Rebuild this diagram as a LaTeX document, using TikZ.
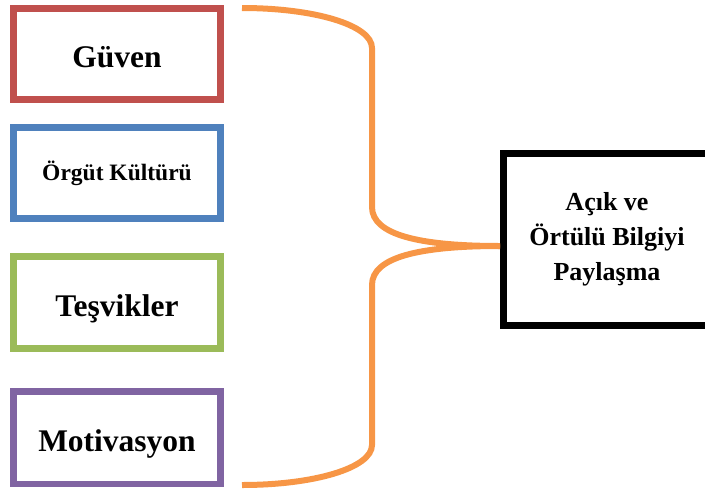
\documentclass[tikz,border=0pt]{standalone}
\usepackage{fontspec}
\setmainfont{Liberation Serif}
\definecolor{boxred}{HTML}{C0504D}
\definecolor{boxblue}{HTML}{4F81BD}
\definecolor{boxgreen}{HTML}{9BBB59}
\definecolor{boxpurple}{HTML}{8064A2}
\definecolor{braceorange}{HTML}{F79646}
\begin{document}
\begin{tikzpicture}[x=1pt,y=-1pt,
  factor/.style={draw, line width=6.5pt, fill=white, inner sep=0pt,
    minimum width=207pt, minimum height=91pt, font=\bfseries},
  biglabel/.style={font=\fontsize{31.5}{36}\selectfont\bfseries,
    text height=27.5pt, text depth=0pt},
  result/.style={draw=black, line width=7pt, fill=white, inner sep=0pt,
    minimum width=207pt, minimum height=171.5pt, align=center,
    font=\fontsize{26}{35}\selectfont\bfseries},
  brace/.style={draw=braceorange, line width=6pt, line cap=butt}]
  \useasboundingbox (0,0) rectangle (705,488);
  \clip (0,0) rectangle (705,488);

  % factor boxes on the left
  \node[factor, draw=boxred, biglabel] (guven) at (117,53.75) {Güven};
  \node[factor, draw=boxblue, font=\fontsize{23.5}{28}\selectfont\bfseries]
    (kultur) at (117,173) {Örgüt Kültürü};
  \node[factor, draw=boxgreen, minimum height=92pt, biglabel]
    (tesvik) at (117,302.5) {Teşvikler};
  \node[factor, draw=boxpurple, minimum height=92.5pt, biglabel]
    (motiv) at (117,437.5) {Motivasyon};

  % outcome box on the right
  \node[result] (paylasma) at (607,239.25) {Açık ve\\Örtülü Bilgiyi\\Paylaşma};

  % brace gathering the factors into the outcome
  \coordinate (btop) at (242,8);
  \coordinate (bbot) at (242,485);
  \coordinate (tip) at (paylasma.west |- 0,246);
  \draw[brace] (btop) .. controls (314,8) and (372,25) .. (372,48)
    -- (372,207) .. controls (372,235) and (420,246) .. (tip);
  \draw[brace] (bbot) .. controls (314,485) and (372,468) .. (372,445)
    -- (372,285) .. controls (372,257) and (420,246) .. (tip);
\end{tikzpicture}
\end{document}
